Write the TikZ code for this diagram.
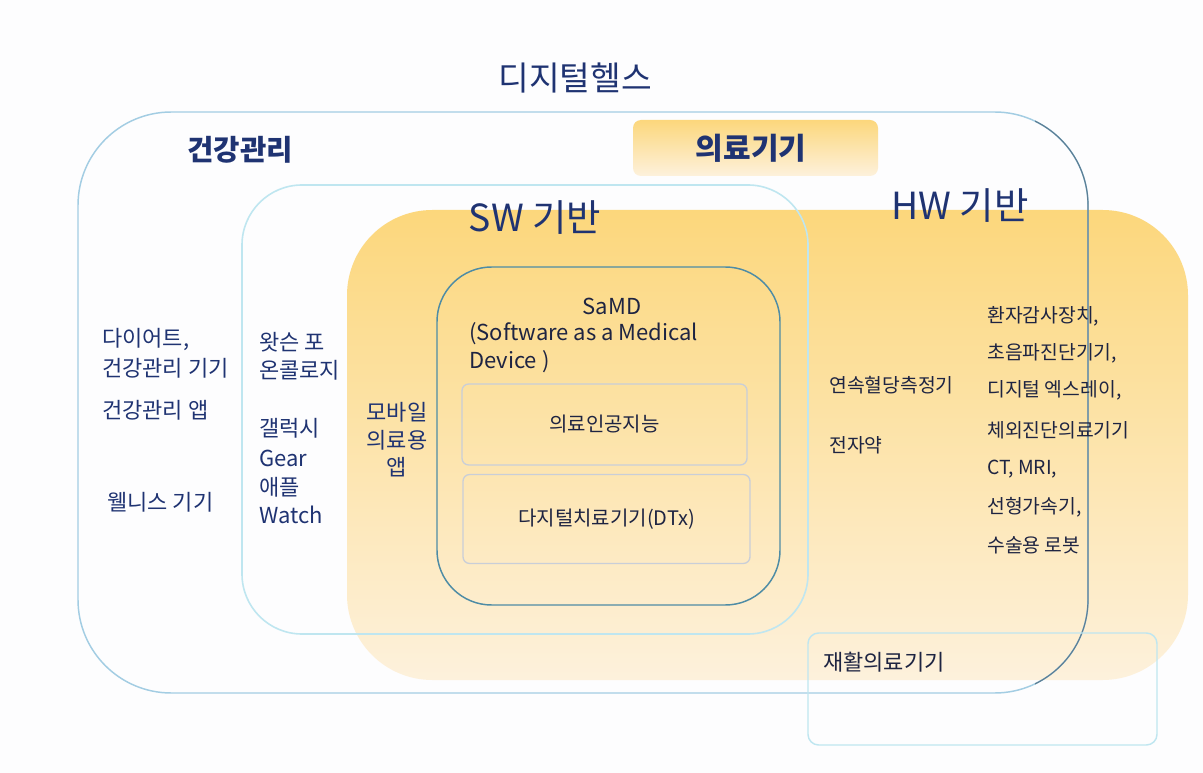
\documentclass[tikz,border=0pt]{standalone}
\usepackage{fontspec}
\setmainfont{Noto Sans CJK KR}
\definecolor{navy}{HTML}{1F3372}
\definecolor{darktxt}{HTML}{1E2442}
\definecolor{outerblue}{HTML}{A3CDE3}
\definecolor{outerdark}{HTML}{5D7F95}
\definecolor{swcyan}{HTML}{BFE6F0}
\definecolor{samdteal}{HTML}{4E8CA5}
\definecolor{innergrey}{HTML}{C9CED8}
\definecolor{orangetop}{HTML}{FCD77C}
\definecolor{orangebot}{HTML}{FDF1DC}
\definecolor{bg}{HTML}{FDFDFE}
\begin{document}
\begin{tikzpicture}[x=0.75pt,y=-0.75pt,
  txt/.style={font=\fontsize{16.5}{20}\selectfont, text=navy, inner sep=0pt},
  dtxt/.style={font=\fontsize{16.5}{20}\selectfont, text=darktxt, inner sep=0pt},
  rtxt/.style={font=\fontsize{14.5}{17}\selectfont, text=darktxt, inner sep=0pt, anchor=west},
  bigtxt/.style={font=\fontsize{28}{33}\selectfont, text=navy, inner sep=0pt},
  boldtxt/.style={font=\fontsize{21.5}{25}\selectfont\bfseries, text=navy, inner sep=0pt},
  innerbox/.style={draw=innergrey, line width=1pt, rounded corners=5pt, font=\fontsize{15}{18}\selectfont, text=darktxt}
]
\useasboundingbox (0,0) rectangle (1203,773);
\fill[bg] (0,0) rectangle (1203,773);

% orange HW/medical device region
\shade[top color=orangetop, bottom color=orangebot, rounded corners=64pt] (347,210) rectangle (1188,680);

% header box 의료기기
\node[draw=none, rounded corners=6pt, top color=orangetop, bottom color=orangebot,
      minimum width=183.75pt, minimum height=42pt, inner sep=0pt] (hdrbox) at (755.5,148) {};
\node[boldtxt, font=\fontsize{22.5}{26}\selectfont\bfseries] (medical) at (751,148) {의료기기};

% outer 디지털헬스 container
\draw[outerblue, line width=1.1pt, rounded corners=70pt] (78,112) rectangle (1088,693);
\begin{scope}
  \clip (1035,0) rectangle (1203,773);
  \draw[outerdark, line width=0.9pt, rounded corners=70pt] (78,112) rectangle (1088,693);
\end{scope}

% SW container
\draw[swcyan, line width=1.2pt, rounded corners=45pt] (242,185) rectangle (808,634);

% SaMD
\draw[samdteal, line width=1.1pt, rounded corners=41pt] (437,267) rectangle (780,605);

% rehab box
\node[draw=swcyan, line width=1.1pt, rounded corners=8pt, minimum width=261.75pt, minimum height=84pt, inner sep=0pt] (rehabbox) at (982.5,689) {};
\node[dtxt, anchor=west] (rehab) at (823,662) {재활의료기기};

% inner boxes
\node[innerbox, minimum width=213.75pt, minimum height=60.75pt, inner sep=0pt] (ai) at (604.5,424.5) {의료인공지능};
\node[innerbox, minimum width=215.25pt, minimum height=66.75pt, inner sep=0pt] (dtx) at (606.5,519) {다지털치료기기(DTx)};

% titles
\node[txt, font=\fontsize{25}{29}\selectfont] (dh) at (575,78) {디지털헬스};
\node[boldtxt] (health) at (240,150) {건강관리};
\node[bigtxt] (sw) at (535,218) {SW 기반};
\node[bigtxt] (hw) at (960,206) {HW 기반};

% left column
\node[txt, anchor=west] (l1) at (102,339) {다이어트,};
\node[txt, anchor=west] (l2) at (102,368) {건강관리 기기};
\node[txt, anchor=west] (l3) at (102,410) {건강관리 앱};
\node[txt, anchor=west] (l4) at (107,502) {웰니스 기기};

% second column
\node[txt, anchor=west] (c1) at (259,342) {왓슨 포};
\node[txt, anchor=west] (c2) at (259,370) {온콜로지};
\node[txt, anchor=west] (c3) at (259,428) {갤럭시};
\node[txt, anchor=west] (c4) at (259,458) {Gear};
\node[txt, anchor=west] (c5) at (259,487) {애플};
\node[txt, anchor=west] (c6) at (259,515) {Watch};

% mobile app
\node[txt] (m1) at (397,412) {모바일};
\node[txt] (m2) at (397,440) {의료용};
\node[txt] (m3) at (397,467) {앱};

% SaMD text
\node[dtxt] (samd) at (612,306) {SaMD};
\node[dtxt, anchor=west] (sw1) at (469,334) {(Software as a Medical};
\node[dtxt, anchor=west] (sw2) at (469,362) {Device )};

% HW middle column
\node[rtxt] (h1) at (829,385) {연속혈당측정기};
\node[rtxt] (h2) at (829,445) {전자약};

% right list
\node[rtxt] (r1) at (987,316) {환자감사장치,};
\node[rtxt] (r2) at (987,353) {초음파진단기기,};
\node[rtxt] (r3) at (987,390) {디지털 엑스레이,};
\node[rtxt] (r4) at (987,430) {체외진단의료기기};
\node[rtxt] (r5) at (987,469) {CT, MRI,};
\node[rtxt] (r6) at (987,507) {선형가속기,};
\node[rtxt] (r7) at (987,545) {수술용 로봇};
\end{tikzpicture}
\end{document}
